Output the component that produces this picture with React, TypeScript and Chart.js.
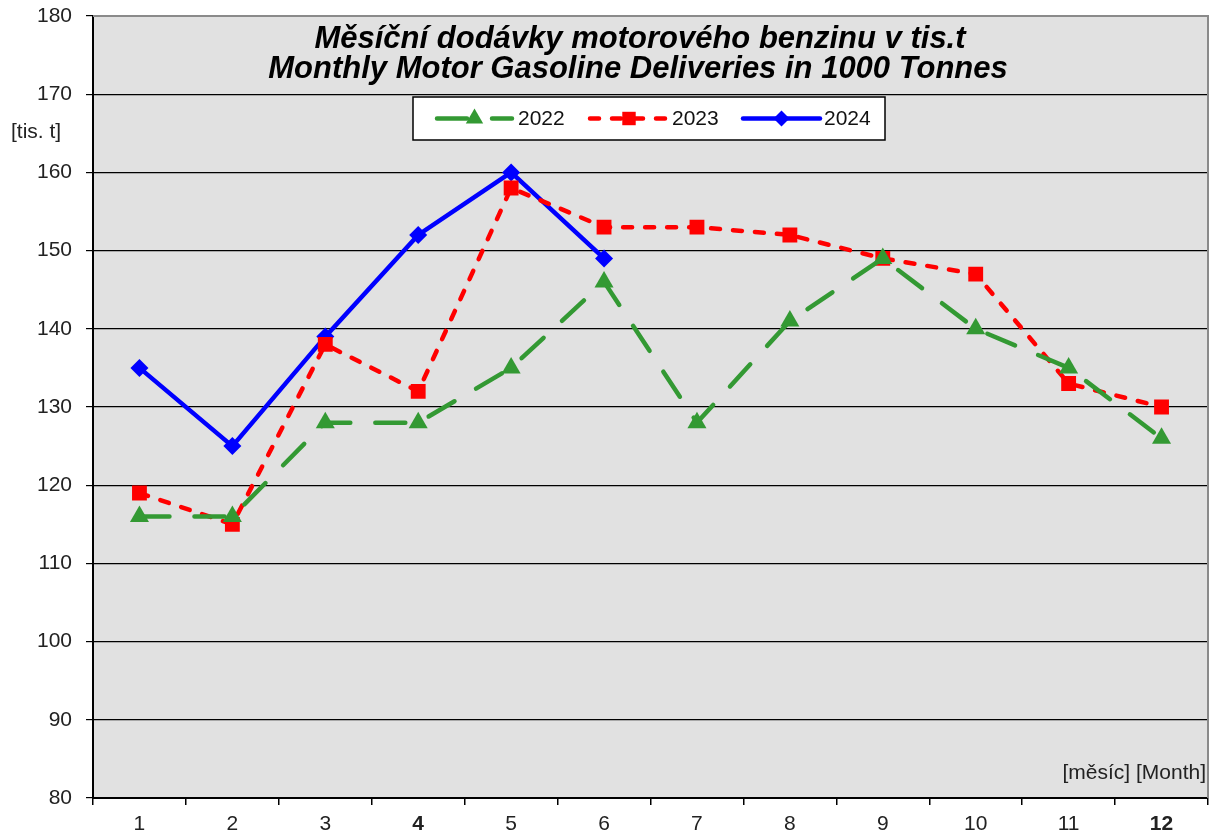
import React, { useEffect, useRef } from "react";
import { Chart, registerables } from "chart.js";

Chart.register(...registerables);

const months = ["1", "2", "3", "4", "5", "6", "7", "8", "9", "10", "11", "12"];
const boldMonths = ["4", "12"];
const series2022 = [116, 116, 128, 128, 135, 146, 128, 141, 149, 140, 135, 126];
const series2023 = [119, 115, 138, 132, 158, 153, 153, 152, 149, 147, 133, 130];
const series2024 = [135, 125, 139, 152, 160, 149, null, null, null, null, null, null];
const yTicks = [80, 90, 100, 110, 120, 130, 140, 150, 160, 170, 180];
const titleLines = ["Měsíční dodávky motorového benzinu v tis.t", "Monthly Motor Gasoline Deliveries in 1000 Tonnes"];
const yUnit = "[tis. t]";
const xUnit = "[měsíc] [Month]";

const FONT = "'Liberation Sans', Arial, sans-serif";

function drawMarker(ctx: CanvasRenderingContext2D, style: string, r: number, x: number, y: number) {
  ctx.beginPath();
  if (style === "triangle") {
    ctx.moveTo(x, y - r);
    ctx.lineTo(x + r * 0.87, y + r * 0.5);
    ctx.lineTo(x - r * 0.87, y + r * 0.5);
  } else if (style === "rect") {
    const s = r * Math.SQRT1_2;
    ctx.rect(x - s, y - s, 2 * s, 2 * s);
  } else {
    ctx.moveTo(x - r, y);
    ctx.lineTo(x, y - r);
    ctx.lineTo(x + r, y);
    ctx.lineTo(x, y + r);
  }
  ctx.closePath();
  ctx.fill();
}

const decorPlugin = {
  id: "decor",
  beforeDraw(chart: any) {
    const { ctx, chartArea: a } = chart;
    ctx.save();
    ctx.fillStyle = "#e1e1e1";
    ctx.fillRect(a.left, a.top, a.right - a.left, a.bottom - a.top);
    ctx.restore();
  },
  afterDatasetsDraw(chart: any) {
    const { ctx, chartArea: a } = chart;
    ctx.save();
    ctx.strokeStyle = "#8a8a8a";
    ctx.lineWidth = 2;
    ctx.beginPath();
    ctx.moveTo(a.left, a.top);
    ctx.lineTo(a.right, a.top);
    ctx.lineTo(a.right, a.bottom);
    ctx.stroke();

    ctx.fillStyle = "#000";
    ctx.textAlign = "center";
    ctx.textBaseline = "alphabetic";
    ctx.font = `italic bold 31px ${FONT}`;
    ctx.fillText(titleLines[0], 640, 48);
    ctx.fillText(titleLines[1], 638, 78);

    ctx.textBaseline = "middle";
    ctx.font = `21px ${FONT}`;
    ctx.fillStyle = "#222";
    ctx.textAlign = "left";
    ctx.fillText(yUnit, 11, 132);
    ctx.textAlign = "right";
    ctx.fillText(xUnit, 1206, 773);

    const bx = 413, by = 97, bw = 472, bh = 43;
    ctx.fillStyle = "#fff";
    ctx.fillRect(bx, by, bw, bh);
    ctx.strokeStyle = "#000";
    ctx.lineWidth = 1.5;
    ctx.strokeRect(bx, by, bw, bh);
    const cy = by + bh / 2;
    const entries = [
      { x0: 437, x1: 512, tx: 518 },
      { x0: 590, x1: 668, tx: 672 },
      { x0: 743, x1: 820, tx: 824 },
    ];
    chart.data.datasets.forEach((ds: any, i: number) => {
      const e = entries[i];
      ctx.save();
      ctx.strokeStyle = ds.borderColor;
      ctx.lineWidth = ds.borderWidth;
      ctx.lineCap = "round";
      ctx.setLineDash(ds.borderDash || []);
      ctx.beginPath();
      ctx.moveTo(e.x0, cy);
      ctx.lineTo(e.x1, cy);
      ctx.stroke();
      ctx.restore();
      ctx.save();
      ctx.fillStyle = ds.pointBackgroundColor;
      drawMarker(ctx, ds.pointStyle, ds.pointRadius - 1, (e.x0 + e.x1) / 2, cy);
      ctx.restore();
      ctx.fillStyle = "#111";
      ctx.font = `21px ${FONT}`;
      ctx.textAlign = "left";
      ctx.textBaseline = "middle";
      ctx.fillText(ds.label, e.tx, cy + 1);
    });
    ctx.restore();
  },
};

export default function App() {
  const ref = useRef<HTMLCanvasElement>(null);
  useEffect(() => {
    document.body.style.margin = "0";
    const chart = new Chart(ref.current!, {
      type: "line",
      data: {
        labels: months,
        datasets: [
          {
            label: "2022",
            data: series2022,
            borderColor: "#339933",
            backgroundColor: "#339933",
            pointBackgroundColor: "#339933",
            pointBorderColor: "#339933",
            borderWidth: 4.5,
            borderDash: [30, 25],
            borderCapStyle: "round",
            pointStyle: "triangle",
            pointRadius: 11,
            pointBorderWidth: 0,
            tension: 0,
          },
          {
            label: "2023",
            data: series2023,
            borderColor: "#ff0000",
            backgroundColor: "#ff0000",
            pointBackgroundColor: "#ff0000",
            pointBorderColor: "#ff0000",
            borderWidth: 4.5,
            borderDash: [9, 13],
            borderCapStyle: "round",
            pointStyle: "rect",
            pointRadius: 10.5,
            pointBorderWidth: 0,
            tension: 0,
          },
          {
            label: "2024",
            data: series2024,
            borderColor: "#0000ff",
            backgroundColor: "#0000ff",
            pointBackgroundColor: "#0000ff",
            pointBorderColor: "#0000ff",
            borderWidth: 4.5,
            borderCapStyle: "round",
            pointStyle: "rectRot",
            pointRadius: 9,
            pointBorderWidth: 0,
            tension: 0,
            spanGaps: false,
          },
        ],
      },
      options: {
        responsive: false,
        animation: false,
        events: [],
        layout: { padding: { top: 16, right: 12, left: 0, bottom: 0 } },
        plugins: { legend: { display: false }, title: { display: false }, tooltip: { enabled: false } },
        scales: {
          x: {
            type: "category",
            offset: true,
            afterFit: (s: any) => { s.height = 36; s.paddingLeft = 0; s.paddingRight = 0; },
            grid: { offset: true, drawOnChartArea: false, drawTicks: true, tickLength: 7, color: "#000", lineWidth: 1.5 },
            border: { color: "#000", width: 2 },
            ticks: {
              padding: 7,
              color: "#222",
              font: (c: any) => ({ family: FONT, size: 21, weight: boldMonths.includes(months[c.index]) ? "bold" : "normal" }),
            },
          },
          y: {
            min: 80,
            max: 180,
            afterFit: (s: any) => { s.width = 93; s.paddingTop = 0; s.paddingBottom = 0; },
            afterBuildTicks: (s: any) => { s.ticks = yTicks.map((v) => ({ value: v })); },
            grid: {
              color: (c: any) => (c.tick && c.tick.value === 180 ? "#8a8a8a" : "#000"),
              lineWidth: 1.2,
              tickLength: 7,
              tickColor: "#000",
            },
            border: { color: "#000", width: 2 },
            ticks: { padding: 14, color: "#222", font: { family: FONT, size: 21 } },
          },
        },
      },
      plugins: [decorPlugin],
    } as any);
    return () => chart.destroy();
  }, []);
  return (
    <div style={{ width: 1220, height: 834 }}>
      <canvas ref={ref} width={1220} height={834} style={{ display: "block" }} />
    </div>
  );
}
